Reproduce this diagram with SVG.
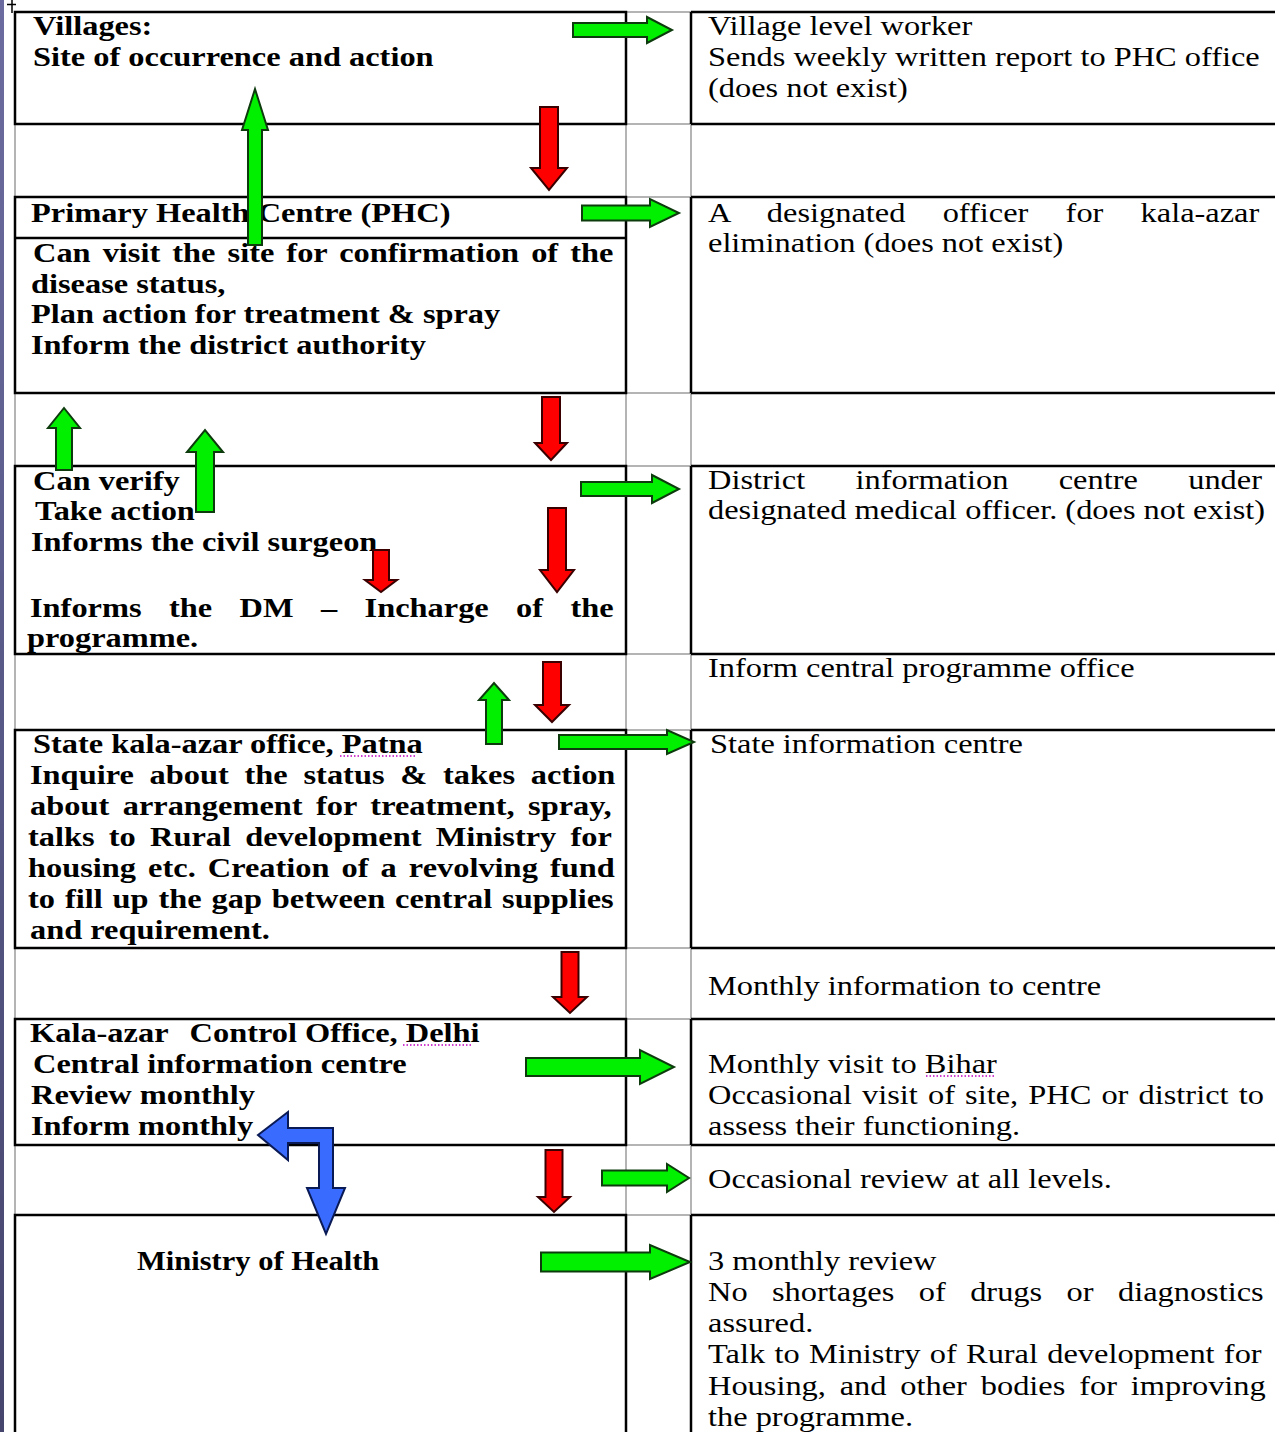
<svg xmlns="http://www.w3.org/2000/svg" width="1275" height="1432" viewBox="0 0 1275 1432">
<defs>
<linearGradient id="strip" x1="0" y1="0" x2="0" y2="1">
<stop offset="0" stop-color="#6c6ca0"/>
<stop offset="1" stop-color="#45456e"/>
</linearGradient>
<style>
.t{font-family:"Liberation Serif","Times New Roman",serif;font-size:27px;fill:#000}
.b{font-weight:bold}
.bk{stroke:#000;stroke-width:2.5;fill:none}
.gr{stroke:#b4b4b4;stroke-width:2;fill:none}
.ga{fill:#00f000;stroke:#0d3b0d;stroke-width:2}
.ra{fill:#ff0000;stroke:#3a0000;stroke-width:2}
.ba{fill:#3a6bff;stroke:#0a1a55;stroke-width:2}
.sq{stroke:#c000c0;stroke-width:1.5;stroke-dasharray:1.5 2;fill:none}
</style>
</defs>
<rect width="1275" height="1432" fill="#fff"/>
<rect x="0" y="0" width="4" height="1432" fill="url(#strip)"/>
<path d="M12 0V13M7 4.5H16" stroke="#000" stroke-width="1.5" fill="none"/>

<g id="grid">
<path class="gr" d="M15 12H1275M15 124H1275M15 197H1275M15 393H1275M15 466H1275M15 654H1275M15 730H1275M15 948H1275M15 1019H1275M15 1145H1275M15 1215H1275M15 12V1432M626 12V1432M691 12V1432"/>
<path class="bk" d="M691 124H1275M691 197H1275M691 393H1275M691 466H1275M691 654H1275M691 730H1275M691 948H1275M691 1019H1275M691 1145H1275M691 1215H1275M691 12H1275"/>
</g>

<g id="villages">
<rect class="bk" x="15" y="12" width="611" height="112"/>
<text class="t b" transform="translate(33 35) scale(1.2 1)">Villages:</text>
<text class="t b" transform="translate(33 66) scale(1.2 1)">Site of occurrence and action</text>
</g>
<g id="vlw">
<path class="bk" d="M691 12V124"/>
<text class="t" transform="translate(708 35) scale(1.2 1)">Village level worker</text>
<text class="t" transform="translate(708 66) scale(1.2 1)">Sends weekly written report to PHC office</text>
<text class="t" transform="translate(708 97) scale(1.2 1)">(does not exist)</text>
</g>

<g id="phc">
<rect class="bk" x="15" y="197" width="611" height="196"/>
<path class="bk" d="M15 238H626"/>
<text class="t b" transform="translate(31 222) scale(1.2 1)">Primary Health Centre (PHC)</text>
<text class="t b" transform="translate(33 262) scale(1.2 1)" style="word-spacing:3.3px">Can visit the site for confirmation of the</text>
<text class="t b" transform="translate(31 293) scale(1.2 1)">disease status,</text>
<text class="t b" transform="translate(31 323) scale(1.2 1)">Plan action for treatment &amp; spray</text>
<text class="t b" transform="translate(31 354) scale(1.2 1)">Inform the district authority</text>
</g>
<g id="officer">
<path class="bk" d="M691 197V393"/>
<text class="t" transform="translate(708 222) scale(1.2 1)" style="word-spacing:24.3px">A designated officer for kala-azar</text>
<text class="t" transform="translate(708 252) scale(1.2 1)">elimination (does not exist)</text>
</g>

<g id="district">
<rect class="bk" x="15" y="466" width="611" height="188"/>
<text class="t b" transform="translate(33 490) scale(1.2 1)">Can verify</text>
<text class="t b" transform="translate(35 520) scale(1.2 1)">Take action</text>
<text class="t b" transform="translate(31 551) scale(1.2 1)">Informs the civil surgeon</text>
<text class="t b" transform="translate(30 617) scale(1.2 1)" style="word-spacing:16.1px">Informs the DM – Incharge of the</text>
<text class="t b" transform="translate(27 647) scale(1.2 1)">programme.</text>
</g>
<g id="district-info">
<path class="bk" d="M691 466V654"/>
<text class="t" transform="translate(708 489) scale(1.2 1)" style="word-spacing:35.2px">District information centre under</text>
<text class="t" transform="translate(708 519) scale(1.2 1)">designated medical officer. (does not exist)</text>
</g>
<g id="inform-central">
<text class="t" transform="translate(708 677) scale(1.2 1)">Inform central programme office</text>
</g>

<g id="state">
<rect class="bk" x="15" y="730" width="611" height="218"/>
<text class="t b" transform="translate(33 753) scale(1.2 1)">State kala-azar office, Patna</text>
<path class="sq" d="M340 756H417"/>
<text class="t b" transform="translate(30 784) scale(1.2 1)" style="word-spacing:6.4px">Inquire about the status &amp; takes action</text>
<text class="t b" transform="translate(30 815) scale(1.2 1)" style="word-spacing:4.5px">about arrangement for treatment, spray,</text>
<text class="t b" transform="translate(28 846) scale(1.2 1)" style="word-spacing:5.1px">talks to Rural development Ministry for</text>
<text class="t b" transform="translate(28 877) scale(1.2 1)" style="word-spacing:3.3px">housing etc. Creation of a revolving fund</text>
<text class="t b" transform="translate(28 908) scale(1.2 1)" style="word-spacing:1.5px">to fill up the gap between central supplies</text>
<text class="t b" transform="translate(30 939) scale(1.2 1)">and requirement.</text>
</g>
<g id="state-info">
<path class="bk" d="M691 730V948"/>
<text class="t" transform="translate(710 753) scale(1.2 1)">State information centre</text>
</g>
<g id="monthly-info">
<text class="t" transform="translate(708 995) scale(1.2 1)">Monthly information to centre</text>
</g>

<g id="delhi">
<rect class="bk" x="15" y="1019" width="611" height="126"/>
<text class="t b" transform="translate(30 1042) scale(1.2 1)">Kala-azar<tspan x="133">Control Office, Delhi</tspan></text>
<path class="sq" d="M403 1045H473"/>
<text class="t b" transform="translate(33 1073) scale(1.2 1)">Central information centre</text>
<text class="t b" transform="translate(31 1104) scale(1.2 1)">Review monthly</text>
<text class="t b" transform="translate(31 1135) scale(1.2 1)">Inform monthly</text>
</g>
<g id="visit">
<path class="bk" d="M691 1019V1145"/>
<text class="t" transform="translate(708 1073) scale(1.2 1)">Monthly visit to Bihar</text>
<path class="sq" d="M926 1076H995"/>
<text class="t" transform="translate(708 1104) scale(1.2 1)" style="word-spacing:1.7px">Occasional visit of site, PHC or district to</text>
<text class="t" transform="translate(708 1135) scale(1.2 1)">assess their functioning.</text>
</g>
<g id="occasional">
<text class="t" transform="translate(708 1188) scale(1.2 1)">Occasional review at all levels.</text>
</g>

<g id="ministry">
<path class="bk" d="M15 1432V1215H626V1432"/>
<text class="t b" transform="translate(137 1270) scale(1.13 1)">Ministry of Health</text>
</g>
<g id="review">
<path class="bk" d="M691 1215V1432"/>
<text class="t" transform="translate(708 1270) scale(1.2 1)">3 monthly review</text>
<text class="t" transform="translate(708 1301) scale(1.2 1)" style="word-spacing:13.6px">No shortages of drugs or diagnostics</text>
<text class="t" transform="translate(708 1332) scale(1.2 1)">assured.</text>
<text class="t" transform="translate(708 1363) scale(1.2 1)" style="word-spacing:1px">Talk to Ministry of Rural development for</text>
<text class="t" transform="translate(708 1395) scale(1.2 1)" style="word-spacing:4.8px">Housing, and other bodies for improving</text>
<text class="t" transform="translate(708 1426) scale(1.2 1)">the programme.</text>
</g>

<g id="connectors">
<polygon class="ga" points="573,23 647,23 647,17 672,30 647,43 647,37 573,37"/>
<polygon class="ga" points="582,205.5 650,205.5 650,199 679,213 650,227 650,220.5 582,220.5"/>
<polygon class="ga" points="581,482 652,482 652,475 679,489 652,503 652,496 581,496"/>
<polygon class="ga" points="559,735 667,735 667,730 694,742 667,754 667,749 559,749"/>
<polygon class="ga" points="526,1058 640,1058 640,1050 674,1067 640,1084 640,1076 526,1076"/>
<polygon class="ga" points="602,1170.5 667,1170.5 667,1164 689,1178 667,1192 667,1185.5 602,1185.5"/>
<polygon class="ga" points="541,1252.5 650,1252.5 650,1245 690,1262 650,1279 650,1271.5 541,1271.5"/>

<polygon class="ra" points="540,107 558,107 558,168 567,168 549,190 531,168 540,168"/>
<polygon class="ra" points="542,397 560,397 560,443 567,443 551,460 535,443 542,443"/>
<polygon class="ra" points="548,508 566,508 566,570 574,570 557,592 540,570 548,570"/>
<polygon class="ra" points="373,550 389,550 389,580 397,580 381,592 365,580 373,580"/>
<polygon class="ra" points="543,662 561,662 561,705 569,705 552,722 535,705 543,705"/>
<polygon class="ra" points="561.5,952 578.5,952 578.5,997 587,997 570,1013 553,997 561.5,997"/>
<polygon class="ra" points="545.5,1150 562.5,1150 562.5,1197 570,1197 554,1212 538,1197 545.5,1197"/>

<polygon class="ga" points="248,245 248,130 242,130 255,89 268,130 262,130 262,245"/>
<polygon class="ga" points="56,470 56,428 48,428 64,408 80,428 72,428 72,470"/>
<polygon class="ga" points="196,512 196,452 187,452 205,430 223,452 214,452 214,512"/>
<polygon class="ga" points="486,744 486,700 479,700 494,683 509,700 502,700 502,744"/>

<polygon class="ba" points="258,1135 288,1112 288,1128 333,1128 333,1188 345,1188 326,1234 307,1188 319,1188 319,1143 288,1143 288,1160"/>
</g>
</svg>
